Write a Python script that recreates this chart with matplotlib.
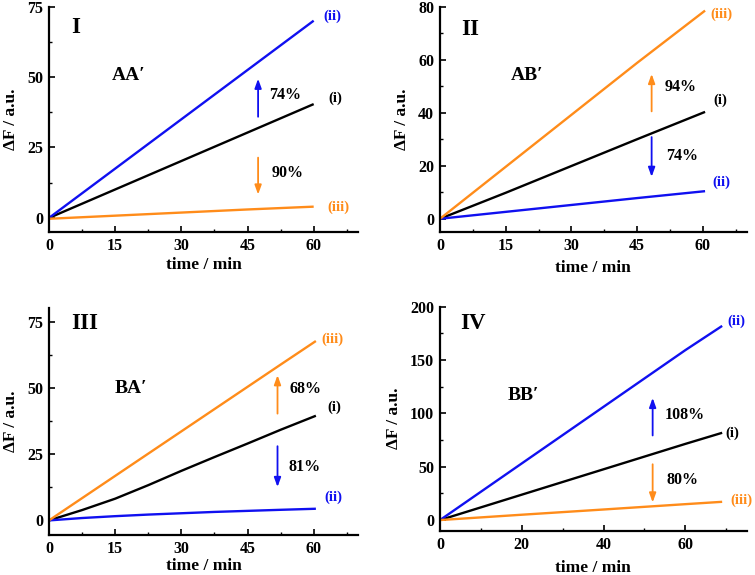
import numpy as np
import matplotlib
matplotlib.use("Agg")
import matplotlib.pyplot as plt
from matplotlib.ticker import MultipleLocator

plt.rcParams['font.family'] = ['Liberation Serif', 'DejaVu Serif']
plt.rcParams['font.weight'] = 'bold'

BLUE = '#1010f0'
ORANGE = '#ff8c1a'
BLACK = '#000000'

# panel I (AA')
t1 = [0, 15, 30, 45, 60]
i1 = [0, 10.1, 20.2, 30.3, 40.4]
ii1 = [0, 17.5, 35.0, 52.5, 70.0]
iii1 = [-0.3, 0.8, 1.9, 3.0, 4.0]

# panel II (AB')
t2 = [0, 15, 30, 45, 60.5]
i2 = [0, 9.8, 19.9, 30.0, 40.3]
ii2 = [0, 2.6, 5.2, 7.8, 10.4]
iii2 = [0, 19.6, 39.2, 58.8, 78.5]

# panel III (BA')
t3 = [0, 7.5, 15, 22.5, 30, 37.5, 45, 52.5, 60.5]
i3 = [0, 3.9, 8.2, 13.3, 18.7, 23.9, 29.0, 34.2, 39.5]
ii3 = [0, 0.9, 1.6, 2.2, 2.7, 3.2, 3.6, 4.0, 4.4]
iii3 = [0, 8.4, 16.8, 25.2, 33.6, 42.0, 50.4, 58.8, 67.7]

# panel IV (BB')
t4 = [0, 20, 40, 60, 69]
i4 = [0, 23.8, 47.6, 71.4, 81.8]
ii4 = [0, 53.1, 106.2, 159.3, 182.0]
iii4 = [0, 5.0, 9.9, 14.9, 17.1]

panels = [
    dict(pos=[0.0649, 0.5965, 0.409, 0.392], t=t1, lines=[(i1, BLACK), (ii1, BLUE), (iii1, ORANGE)],
         xlim=(0, 70), ylim=(-5, 75), xmaj=15, xmin=7.5, ymaj=25, ymin=12.5, xpad=2.5,
         roman='I', roman_xy=(6, 67.5), name='AA′', name_xy=(18, 50.5),
         labels=[('(ii)', BLUE, 64.3, 71.7), ('(i)', BLACK, 64.8, 42.3), ('(iii)', ORANGE, 65.7, 3.7)],
         arrows=[(BLUE, 47.4, 35.9, 49.4), (ORANGE, 47.4, 21.4, 8.3)],
         pcts=[('74%', 53.5, 43.7), ('90%', 54.2, 16.1)]),
    dict(pos=[0.5828, 0.5965, 0.4062, 0.392], t=t2, lines=[(i2, BLACK), (ii2, BLUE), (iii2, ORANGE)],
         xlim=(0, 70), ylim=(-5, 80), xmaj=15, xmin=7.5, ymaj=20, ymin=10, xpad=4,
         roman='II', roman_xy=(6.8, 71.4), name='AB′', name_xy=(19.8, 53.9),
         labels=[('(iii)', ORANGE, 64.3, 77.2), ('(i)', BLACK, 63.9, 44.8), ('(ii)', BLUE, 64.2, 13.8)],
         arrows=[(ORANGE, 48.3, 40.5, 54.6), (BLUE, 48.3, 30.8, 15.8)],
         pcts=[('94%', 55, 49.6), ('74%', 55.2, 23.8)]),
    dict(pos=[0.0649, 0.0696, 0.409, 0.394], t=t3, lines=[(i3, BLACK), (ii3, BLUE), (iii3, ORANGE)],
         xlim=(0, 70), ylim=(-5.5, 80), xmaj=15, xmin=7.5, ymaj=25, ymin=12.5, xpad=1,
         roman='III', roman_xy=(8.1, 74.4), name='BA′', name_xy=(18.5, 49.8),
         labels=[('(iii)', ORANGE, 64.3, 68.3), ('(i)', BLACK, 64.7, 42.6), ('(ii)', BLUE, 64.5, 8.8)],
         arrows=[(ORANGE, 51.8, 40.3, 54.8), (BLUE, 51.8, 28, 12.6)],
         pcts=[('68%', 58.2, 49.5), ('81%', 58, 20.2)]),
    dict(pos=[0.5828, 0.077, 0.4062, 0.3896], t=t4, lines=[(i4, BLACK), (ii4, BLUE), (iii4, ORANGE)],
         xlim=(0, 75), ylim=(-10, 200), xmaj=20, xmin=10, ymaj=50, ymin=25, xpad=5,
         roman='IV', roman_xy=(8.1, 183.9), name='BB′', name_xy=(20.3, 117),
         labels=[('(ii)', BLUE, 72.5, 186), ('(i)', BLACK, 71.4, 81.2), ('(iii)', ORANGE, 73.7, 18.7)],
         arrows=[(BLUE, 52, 79.3, 114.5), (ORANGE, 52, 52.3, 16.5)],
         pcts=[('108%', 59.8, 98.9), ('80%', 59.2, 37.3)]),
]

fig = plt.figure(figsize=(7.55, 5.75), dpi=100)

for p in panels:
    ax = fig.add_axes(p['pos'])
    for y, c in p['lines']:
        ax.plot(p['t'], y, color=c, lw=1.7, solid_capstyle='butt', solid_joinstyle='round')
    ax.set_xlim(*p['xlim'])
    ax.set_ylim(*p['ylim'])
    ax.xaxis.set_major_locator(MultipleLocator(p['xmaj']))
    ax.xaxis.set_minor_locator(MultipleLocator(p['xmin']))
    ax.yaxis.set_major_locator(MultipleLocator(p['ymaj']))
    ax.yaxis.set_minor_locator(MultipleLocator(p['ymin']))
    for s in ['top', 'right']:
        ax.spines[s].set_visible(False)
    for s in ['left', 'bottom']:
        ax.spines[s].set_linewidth(1.6)
    ax.tick_params(which='major', direction='in', length=4, width=1.2, labelsize=11.5, pad=4.3)
    ax.tick_params(which='minor', direction='in', length=2.5, width=1.0)
    for lab in ax.get_xticklabels() + ax.get_yticklabels():
        lab.set_fontweight('bold')
    ax.set_xlabel('time / min', fontsize=12.5, fontweight='bold', labelpad=p['xpad'])
    ax.set_ylabel('ΔF / a.u.', fontsize=12.5, fontweight='bold', labelpad=6)

    ax.text(*p['roman_xy'], p['roman'], fontsize=16.5, fontweight='bold', ha='center', va='center')
    ax.text(*p['name_xy'], p['name'], fontsize=14, fontweight='bold', ha='center', va='center')
    for txt, c, x, y in p['labels']:
        ax.text(x, y, txt, color=c, fontsize=10.5, fontweight='bold', ha='center', va='center')
    for c, x, y0, y1 in p['arrows']:
        ax.annotate('', xy=(x, y1), xytext=(x, y0),
                    arrowprops=dict(arrowstyle='-|>,head_length=0.55,head_width=0.2',
                                    color=c, lw=1.3, shrinkA=0, shrinkB=0))
    for txt, x, y in p['pcts']:
        ax.text(x, y, txt, fontsize=11.5, fontweight='bold', ha='center', va='center')

fig.savefig('out.png', dpi=100)
